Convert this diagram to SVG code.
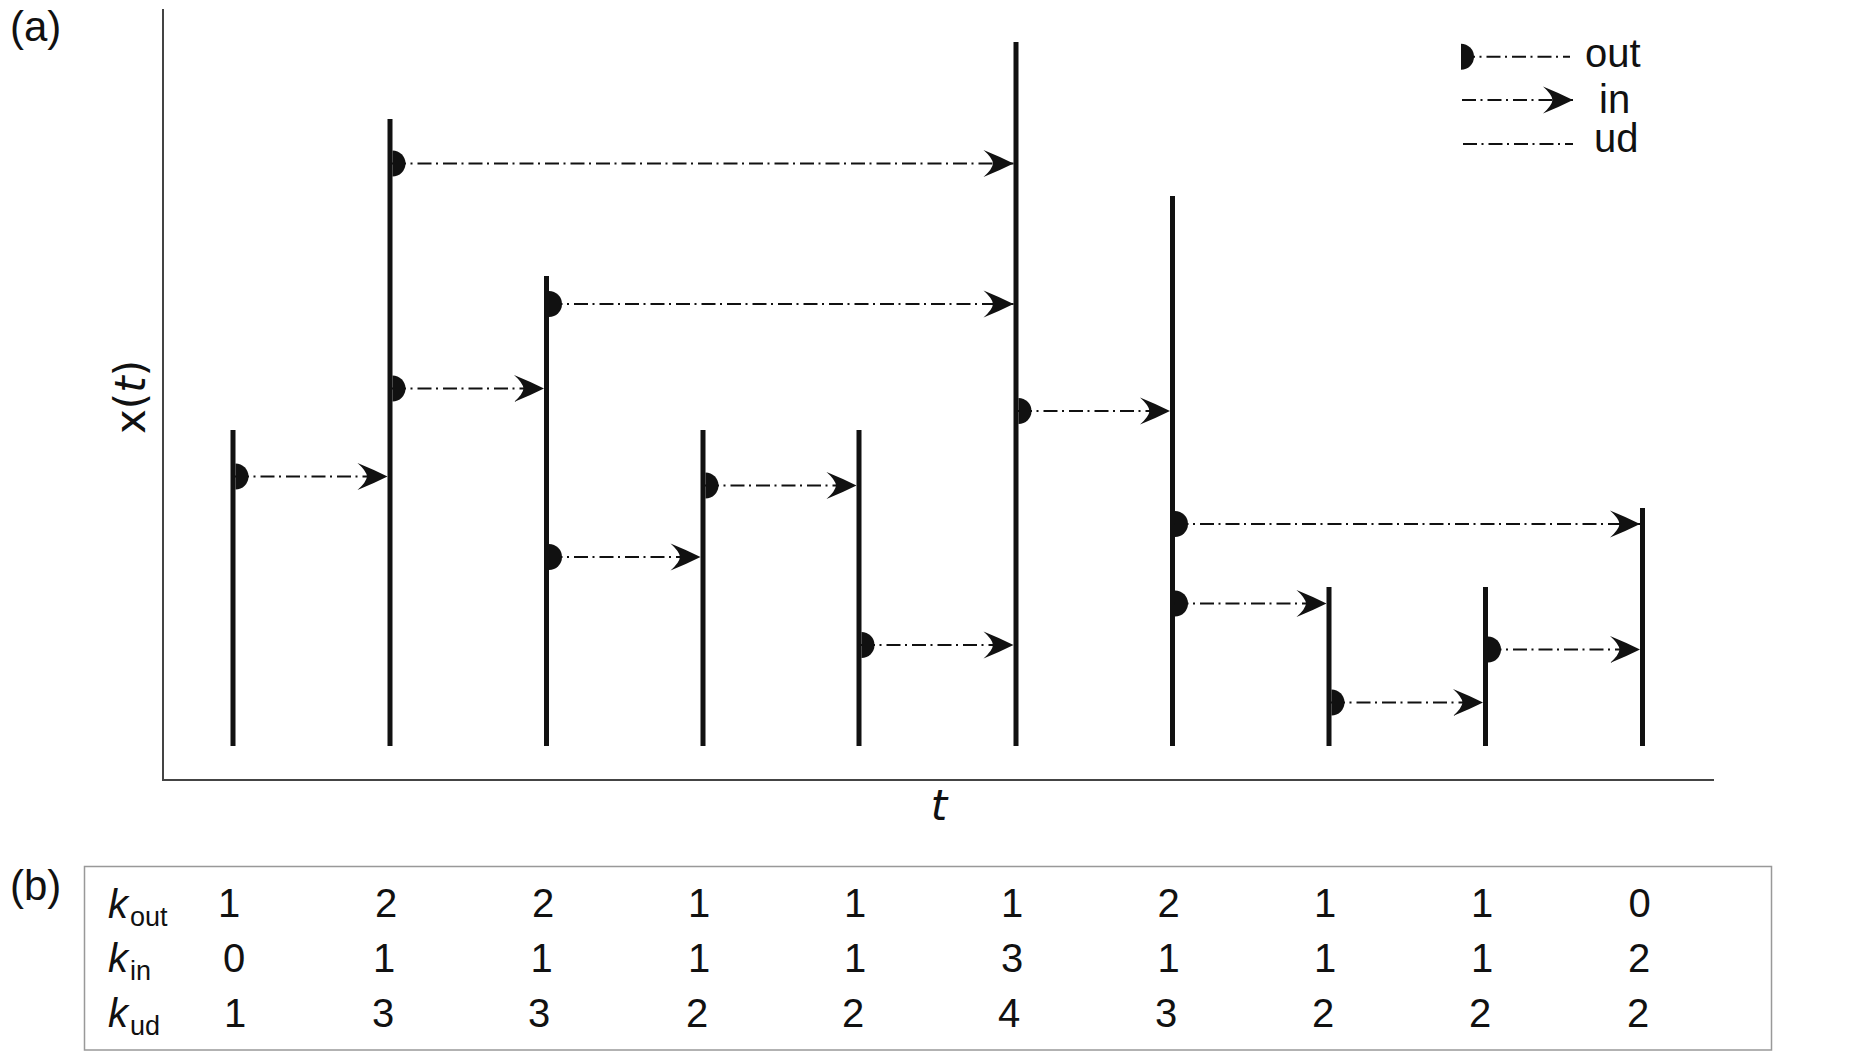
<svg xmlns="http://www.w3.org/2000/svg" width="1862" height="1053" viewBox="0 0 1862 1053">
<style>
.bar{stroke:#111;stroke-width:5;fill:none}
.conn{stroke:#111;stroke-width:2;fill:none;stroke-dasharray:14 4.5 2 5}
.arr{marker-end:url(#arrow)}
.dot{fill:#111}
.axis{stroke:#444;stroke-width:2;fill:none}
.lab{font-family:"Liberation Sans",Arial,sans-serif;fill:#111}
.ax{font-family:"DejaVu Sans",sans-serif;fill:#111}
.num{font-family:"Liberation Sans",Arial,sans-serif;font-size:40px;fill:#111;text-anchor:middle}
.k{font-family:"Liberation Sans",Arial,sans-serif;font-size:40px;font-style:italic;fill:#111}
.sub{font-family:"Liberation Sans",Arial,sans-serif;font-size:27px;fill:#111}
</style>
<defs>
<marker id="arrow" markerUnits="userSpaceOnUse" markerWidth="34" markerHeight="32" viewBox="-32 -16 34 32" refX="0" refY="0" orient="auto">
<path d="M0,0 Q-14,-7 -30,-13.5 Q-21,-5.5 -20.5,0 Q-21,5.5 -30,13.5 Q-14,7 0,0 Z" fill="#111"/>
</marker>
<path id="half" d="M0,-13 A13,13 0 0 1 0,13 Z"/>
</defs>
<rect width="1862" height="1053" fill="#fff"/>

<g id="panel-a-label"><text class="lab" x="10" y="41" font-size="42">(a)</text></g>
<g id="axes">
<path class="axis" d="M163,9 V780 H1714"/>
<text class="ax" font-size="42" text-anchor="middle" transform="translate(145,397) rotate(-90)">x(<tspan font-style="italic">t</tspan>)</text>
<text class="ax" font-size="42" font-style="italic" text-anchor="middle" x="939" y="820">t</text>
</g>

<g id="nodes">
<g id="n1"><line class="bar" x1="233" y1="430" x2="233" y2="746"/></g>
<g id="n2"><line class="bar" x1="390" y1="119" x2="390" y2="746"/></g>
<g id="n3"><line class="bar" x1="546.5" y1="276" x2="546.5" y2="746"/></g>
<g id="n4"><line class="bar" x1="703" y1="430" x2="703" y2="746"/></g>
<g id="n5"><line class="bar" x1="859" y1="430" x2="859" y2="746"/></g>
<g id="n6"><line class="bar" x1="1016" y1="42" x2="1016" y2="746"/></g>
<g id="n7"><line class="bar" x1="1172.5" y1="196" x2="1172.5" y2="746"/></g>
<g id="n8"><line class="bar" x1="1329" y1="587" x2="1329" y2="746"/></g>
<g id="n9"><line class="bar" x1="1485.5" y1="587" x2="1485.5" y2="746"/></g>
<g id="n10"><line class="bar" x1="1642.5" y1="508" x2="1642.5" y2="746"/></g>
</g>

<g id="connectors">
<path class="conn arr" d="M235,476.5 H387.5"/>
<path class="conn arr" d="M392,163.5 H1013.5"/>
<path class="conn arr" d="M392,388.5 H544"/>
<path class="conn arr" d="M548.5,304 H1013.5"/>
<path class="conn arr" d="M548.5,557 H700.5"/>
<path class="conn arr" d="M705,485.5 H856.5"/>
<path class="conn arr" d="M861,645 H1013.5"/>
<path class="conn arr" d="M1018,411 H1170"/>
<path class="conn arr" d="M1174.5,524 H1640"/>
<path class="conn arr" d="M1174.5,603.5 H1326.5"/>
<path class="conn arr" d="M1331,702.5 H1483"/>
<path class="conn arr" d="M1487.5,649.5 H1640"/>
<use class="dot" href="#half" x="235.5" y="476.5"/>
<use class="dot" href="#half" x="392.5" y="163.5"/>
<use class="dot" href="#half" x="392.5" y="388.5"/>
<use class="dot" href="#half" x="549" y="304"/>
<use class="dot" href="#half" x="549" y="557"/>
<use class="dot" href="#half" x="705.5" y="485.5"/>
<use class="dot" href="#half" x="861.5" y="645"/>
<use class="dot" href="#half" x="1018.5" y="411"/>
<use class="dot" href="#half" x="1175" y="524"/>
<use class="dot" href="#half" x="1175" y="603.5"/>
<use class="dot" href="#half" x="1331.5" y="702.5"/>
<use class="dot" href="#half" x="1488" y="649.5"/>
</g>

<g id="legend">
<path class="conn" d="M1461,56.7 H1570"/>
<use class="dot" href="#half" x="1461" y="56.7"/>
<text class="lab" font-size="40" x="1585" y="67">out</text>
<path class="conn arr" d="M1462,100 H1573"/>
<text class="lab" font-size="40" x="1599" y="113">in</text>
<path class="conn" d="M1463,144 H1573"/>
<text class="lab" font-size="40" x="1594" y="152">ud</text>
</g>

<g id="panel-b">
<text class="lab" x="10" y="900" font-size="42">(b)</text>
<rect x="84.5" y="866.5" width="1687" height="183.5" fill="none" stroke="#999" stroke-width="1.5"/>
<text class="k" x="108" y="918">k</text><text class="sub" x="130" y="926">out</text>
<text class="k" x="108" y="971.5">k</text><text class="sub" x="130" y="980">in</text>
<text class="k" x="108" y="1026.5">k</text><text class="sub" x="130" y="1035">ud</text>
<g id="row-out">
<text class="num" x="229" y="917">1</text>
<text class="num" x="386" y="917">2</text>
<text class="num" x="543" y="917">2</text>
<text class="num" x="699" y="917">1</text>
<text class="num" x="855" y="917">1</text>
<text class="num" x="1012" y="917">1</text>
<text class="num" x="1168.5" y="917">2</text>
<text class="num" x="1325" y="917">1</text>
<text class="num" x="1482" y="917">1</text>
<text class="num" x="1639.5" y="917">0</text>
</g>
<g id="row-in">
<text class="num" x="234" y="971.5">0</text>
<text class="num" x="384" y="971.5">1</text>
<text class="num" x="541.5" y="971.5">1</text>
<text class="num" x="699" y="971.5">1</text>
<text class="num" x="855" y="971.5">1</text>
<text class="num" x="1012" y="971.5">3</text>
<text class="num" x="1168.5" y="971.5">1</text>
<text class="num" x="1325" y="971.5">1</text>
<text class="num" x="1482" y="971.5">1</text>
<text class="num" x="1639" y="971.5">2</text>
</g>
<g id="row-ud">
<text class="num" x="235" y="1026.5">1</text>
<text class="num" x="383" y="1026.5">3</text>
<text class="num" x="539" y="1026.5">3</text>
<text class="num" x="697" y="1026.5">2</text>
<text class="num" x="853" y="1026.5">2</text>
<text class="num" x="1009" y="1026.5">4</text>
<text class="num" x="1166" y="1026.5">3</text>
<text class="num" x="1323" y="1026.5">2</text>
<text class="num" x="1480" y="1026.5">2</text>
<text class="num" x="1638" y="1026.5">2</text>
</g>
</g>
</svg>
